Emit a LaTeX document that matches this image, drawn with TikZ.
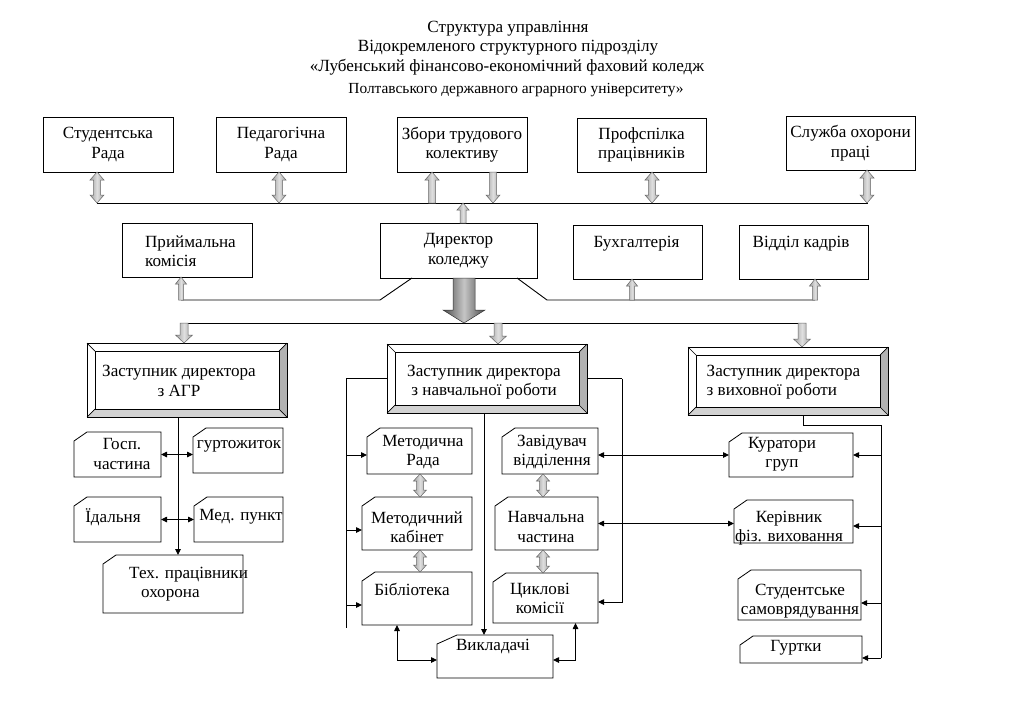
\documentclass[tikz,border=0pt]{standalone}
\usepackage{fontspec}
\setmainfont{Liberation Serif}
\usetikzlibrary{calc,arrows.meta}
\newcommand\fs{\fontsize{17.1}{19.5}\selectfont}
\newcommand\fst{\fontsize{15.4}{18}\selectfont}
\tikzset{
 box/.style={draw=black,line width=0.8pt,fill=white,inner sep=0pt,outer sep=0pt,font=\fs,align=center},
 shapebox/.style={draw=none,inner sep=0pt,outer sep=0pt},
 txt/.style={font=\fs,align=center,inner sep=0pt},
 cardline/.style={draw=black,line width=0.8pt,fill=white},
 bevline/.style={draw=black,line width=0.7pt},
 conn/.style={draw=black,line width=0.9pt},
 arr/.style={-{Triangle[length=6pt,width=5.5pt]}},
 arrb/.style={{Triangle[length=6pt,width=5.5pt]}-{Triangle[length=6pt,width=5.5pt]}},
 garrow/.style={draw=gray!80!black,line width=0.5pt,left color=gray!75,right color=gray!75,middle color=gray!25},
 bigarrow/.style={draw=gray!40!black,line width=0.5pt,left color=black!70,right color=black!70,middle color=gray!45},
}
% card: rectangle with cut top-left corner
\newcommand\cardbox[6][13]{%
  \node[shapebox,minimum width=#5pt,minimum height=#6pt] (#2) at (#3,#4) {};
  \draw[cardline] ($(#2.north west)+(#1,0)$) -- (#2.north east) -- (#2.south east) -- (#2.south west) -- ($(#2.north west)+(0,9)$) -- cycle;
}
% bevelled box
\newcommand\bevelbox[5]{%
  \node[shapebox,minimum width=#4pt,minimum height=#5pt] (#1) at (#2,#3) {};
  \coordinate (#1-a) at ($(#1.north west)+(8,8)$);
  \coordinate (#1-b) at ($(#1.north east)+(-8,8)$);
  \coordinate (#1-c) at ($(#1.south east)+(-8,-8)$);
  \coordinate (#1-d) at ($(#1.south west)+(8,-8)$);
  \fill[white] (#1.north west) rectangle (#1.south east);
  \fill[gray!60] (#1.north east) -- (#1.south east) -- (#1-c) -- (#1-b) -- cycle;
  \fill[gray!35] (#1.south west) -- (#1.south east) -- (#1-c) -- (#1-d) -- cycle;
  \draw[bevline] (#1.north west) rectangle (#1.south east);
  \draw[bevline] (#1-a) rectangle (#1-c);
  \draw[bevline] (#1.north west) -- (#1-a) (#1.north east) -- (#1-b) (#1.south east) -- (#1-c) (#1.south west) -- (#1-d);
}
% gray block arrows: #1 top point, #2 bottom point, #3 half shaft, #4 half head, #5 head length
\newcommand\gdbl[5]{%
  \shadedraw[garrow] let \p1=#1, \p2=#2 in
   (\x1,\y1) -- ({\x1+#4},{\y1-#5}) -- ({\x1+#3},{\y1-#5}) -- ({\x1+#3},{\y2+#5}) -- ({\x1+#4},{\y2+#5}) -- (\x1,\y2)
   -- ({\x1-#4},{\y2+#5}) -- ({\x1-#3},{\y2+#5}) -- ({\x1-#3},{\y1-#5}) -- ({\x1-#4},{\y1-#5}) -- cycle;
}
\newcommand\gup[5]{%
  \shadedraw[garrow] let \p1=#1, \p2=#2 in
   (\x1,\y1) -- ({\x1+#4},{\y1-#5}) -- ({\x1+#3},{\y1-#5}) -- ({\x1+#3},\y2) -- ({\x1-#3},\y2) -- ({\x1-#3},{\y1-#5}) -- ({\x1-#4},{\y1-#5}) -- cycle;
}
\newcommand\gdown[6][garrow]{%
  \shadedraw[#1] let \p1=#2, \p2=#3 in
   ({\x1-#4},\y1) -- ({\x1+#4},\y1) -- ({\x1+#4},{\y2+#6}) -- ({\x1+#5},{\y2+#6}) -- (\x1,\y2) -- ({\x1-#5},{\y2+#6}) -- ({\x1-#4},{\y2+#6}) -- cycle;
}
\begin{document}
\begin{tikzpicture}[x=1pt,y=-1pt]
\useasboundingbox (0,0) rectangle (1024,724);
\fill[white] (0,0) rectangle (1024,724);

% title
\node[txt,anchor=base] (t1) at (508,32) {Структура управління};
\node[txt,anchor=base] (t2) at (508,51) {Відокремленого структурного підрозділу};
\node[txt,anchor=base] (t3) at (507,71) {«Лубенський фінансово-економічний фаховий коледж};
\node[txt,anchor=base,font=\fst] (t4) at (516,93) {Полтавського державного аграрного університету»};

% top row
\node[box,minimum width=130pt,minimum height=55pt] (sr) at (108,144.5) {Студентська\\Рада};
\node[box,minimum width=130pt,minimum height=55pt] (pr) at (281,144.5) {Педагогічна\\Рада};
\node[box,minimum width=130pt,minimum height=55pt] (zb) at (462,144.5) {Збори трудового\\колективу};
\node[box,minimum width=129pt,minimum height=54pt] (pp) at (641.5,145) {Профспілка\\працівників};
\node[box,minimum width=129pt,minimum height=54pt] (so) at (850.5,143) {Служба охорони\\праці};

% second row
\node[box,minimum width=130pt,minimum height=54pt] (pk) at (187,250) {};
\node[txt,align=left] (pkt) at (190.5,251) {Приймальна\\комісія};
\node[box,minimum width=157pt,minimum height=55pt] (dk) at (458.5,250.5) {Директор\\коледжу};
\node[box,minimum width=129pt,minimum height=54pt] (bh) at (637.5,252) {};
\node[txt,anchor=base] (bht) at (636.5,247) {Бухгалтерія};
\node[box,minimum width=129pt,minimum height=54pt] (vk) at (803.5,252) {};
\node[txt,anchor=base] (vkt) at (801,247) {Відділ кадрів};

% bus lines
\coordinate (b1L) at (97,203);
\coordinate (b1R) at (868,203);
\draw[conn] (b1L) -- (b1R);
\coordinate (b2L) at (181,300);
\coordinate (b2R) at (815,300);
\draw[conn] ($(dk.south west)+(32,0)$) -- ($(dk.south west)+(0,22)$) -- (b2L);
\draw[conn] ($(dk.south east)+(-20,0)$) -- ($(dk.south east)+(10,22)$) -- (b2R);
\coordinate (b3L) at (184,323);
\coordinate (b3R) at (802,323);
\draw[conn] (b3L) -- (b3R);

% gray arrows, top
\gdbl{($(sr.south)+(-11,0)$)}{($(sr.south |- b1L)+(-11,0)$)}{3.5}{7}{8}
\gdbl{($(pr.south)+(-2,0)$)}{($(pr.south |- b1L)+(-2,0)$)}{3.5}{7}{8}
\gup{($(zb.south)+(-30,0)$)}{($(zb.south |- b1L)+(-30,0)$)}{3.5}{7}{8}
\gdown{($(zb.south)+(31,0)$)}{($(zb.south |- b1L)+(31,0)$)}{3.5}{7}{8}
\gdbl{($(pp.south)+(10.5,0)$)}{($(pp.south |- b1L)+(10.5,0)$)}{3.5}{7}{8}
\gdbl{($(so.south)+(16.5,0)$)}{($(so.south |- b1L)+(16.5,0)$)}{3.5}{7}{8}
\gup{($(dk.north |- b1L)+(4.5,0)$)}{($(dk.north)+(4.5,0)$)}{3}{6}{7}
\gup{($(pk.south)+(-6,0)$)}{($(pk.south |- b2L)+(-6,0)$)}{2.5}{5.5}{7}
\gup{($(bh.south)+(-5.5,0)$)}{($(bh.south |- b2L)+(-5.5,0)$)}{2.5}{5.5}{7}
\gup{($(vk.south)+(11.5,0)$)}{($(vk.south |- b2L)+(11.5,0)$)}{2.5}{5.5}{7}
\gdown[bigarrow]{($(dk.south)+(5.5,0)$)}{($(dk.south |- b3L)+(5.5,0)$)}{11}{21}{13}

% deputies
\bevelbox{agr}{187}{380}{200}{74}
\node[txt] (agrt) at (179,381) {Заступник директора\\з АГР};
\bevelbox{nav}{487}{378.5}{200}{69}
\node[txt] (navt) at (484,382) {Заступник директора\\з навчальної роботи};
\bevelbox{vyh}{788}{381}{200}{68}
\node[txt,align=left] (vyht) at (783.5,382) {Заступник директора\\з виховної роботи};

\gdown{($(agr.north |- b3L)+(-3,0)$)}{($(agr.north)+(-3,0)$)}{4}{8.5}{8}
\gdown{($(nav.north |- b3L)+(11,0)$)}{($(nav.north)+(11,0)$)}{4}{8.5}{8}
\gdown{($(vyh.north |- b3L)+(14,0)$)}{($(vyh.north)+(14,0)$)}{4}{8.5}{8}

% AGR branch
\cardbox{gosp}{117.5}{454.5}{87}{45}
\node[txt] (gospt) at (122,454) {Госп.\\частина};
\cardbox{gurt}{238}{450.5}{90}{45}
\node[txt,anchor=base] (gurtt) at (239,448) {гуртожиток};
\cardbox{idal}{117.5}{519.5}{87}{45}
\node[txt] (idalt) at (113,517) {Їдальня};
\cardbox{med}{238.5}{519.5}{89}{45}
\node[txt] (medt) at (241,517) {Мед. пункт};
\cardbox{tech}{173}{584}{140}{58}
\node[txt,align=left,anchor=west] (techt) at (129,584) {Тех. працівники\\\hspace*{12pt}охорона};

\coordinate (agrc) at ($(agr.south)+(-9,0)$);
\draw[conn,arr] (agrc) -- (agrc |- tech.north);
\draw[conn,arrb] (gosp.east) -- (gosp.east -| gurt.west);
\draw[conn,arrb] (idal.east) -- (idal.east -| med.west);

% academic branch
\cardbox{mr}{419.5}{451}{105}{46}
\node[txt] (mrt) at (423,452) {Методична\\Рада};
\cardbox{mk}{417}{523.5}{110}{53}
\node[txt] (mkt) at (417,527) {Методичний\\кабінет};
\cardbox{bib}{417}{598.5}{110}{53}
\node[txt,anchor=base] (bibt) at (412,595) {Бібліотека};
\cardbox{zv}{550}{451}{96}{46}
\node[txt] (zvt) at (552,452) {Завідувач\\відділення};
\cardbox{nch}{546.5}{523.5}{103}{53}
\node[txt] (ncht) at (546,527) {Навчальна\\частина};
\cardbox{cyk}{545.5}{598}{105}{50}
\node[txt] (cykt) at (540,598.5) {Циклові\\комісії};
\cardbox[20]{vykl}{495}{656.5}{116}{43}
\node[txt,anchor=base] (vyklt) at (493,650) {Викладачі};

\gdbl{($(mr.south)+(0.5,0)$)}{($(mr.south |- mk.north)+(0.5,0)$)}{3.5}{6.5}{7}
\gdbl{($(mk.south)+(3,0)$)}{($(mk.south |- bib.north)+(3,0)$)}{3.5}{6.5}{7}
\gdbl{($(zv.south)+(-7,0)$)}{($(zv.south |- nch.north)+(-7,0)$)}{3.5}{6.5}{7}
\gdbl{($(nch.south)+(-3.5,0)$)}{($(nch.south |- cyk.north)+(-3.5,0)$)}{3.5}{6.5}{7}

\draw[conn] (nav.west) -- ++(-41,0) coordinate (lvTop) -- ++(0,249) coordinate (lvBot);
\coordinate (mrw) at ($(mr.west)+(0,4)$);
\coordinate (mkw) at ($(mk.west)+(0,6.5)$);
\coordinate (bibw) at ($(bib.west)+(0,6.5)$);
\draw[conn,arr] (lvTop |- mrw) -- (mrw);
\draw[conn,arr] (lvTop |- mkw) -- (mkw);
\draw[conn,arr] (lvTop |- bibw) -- (bibw);

\coordinate (navc) at ($(nav.south)+(-3,0)$);
\draw[conn,arr] (navc) -- (navc |- vykl.north);

\draw[conn] (nav.east) -- ++(35,0) coordinate (rvTop);
\draw[conn,arr] (rvTop) |- ($(cyk.east)+(0,4)$);

\draw[conn,arrb] ($(vykl.west)+(0,3.5)$) -| ($(bib.south)+(-20,0)$);
\draw[conn,arrb] ($(vykl.east)+(0,3.5)$) -| ($(cyk.south)+(30,0)$);

% educational branch
\cardbox{kur}{791}{455}{124}{44}
\node[txt] (kurt) at (782,454) {Куратори\\груп};
\cardbox{ker}{793.5}{521.5}{119}{43}
\node[txt] (kert) at (789,528) {Керівник\\фіз. виховання};
\cardbox{stud}{799.5}{595}{123}{50}
\node[txt] (studt) at (800,601) {Студентське\\самоврядування};
\cardbox{gur}{801}{649.5}{122}{27}
\node[txt,anchor=base] (gurt2) at (796,651) {Гуртки};

\draw[conn,arrb] (kur.west -| zv.east) -- (kur.west);
\draw[conn,arrb] (nch.east) -- (nch.east -| ker.west);

\coordinate (vyc) at ($(vyh.south)+(15,0)$);
\coordinate (gurA) at ($(gur.east)+(0,8.5)$);
\draw[conn] (vyc) -- ++(0,10) -- ++(78,0) coordinate (vrTop);
\draw[conn] (vrTop) -- (vrTop |- gurA);
\coordinate (kerA) at ($(ker.east)+(0,4.5)$);
\coordinate (studA) at ($(stud.east)+(0,8)$);
\draw[conn,arr] (vrTop |- kur.east) -- (kur.east);
\draw[conn,arr] (vrTop |- kerA) -- (kerA);
\draw[conn,arr] (vrTop |- studA) -- (studA);
\draw[conn,arr] (vrTop |- gurA) -- (gurA);
\end{tikzpicture}
\end{document}
